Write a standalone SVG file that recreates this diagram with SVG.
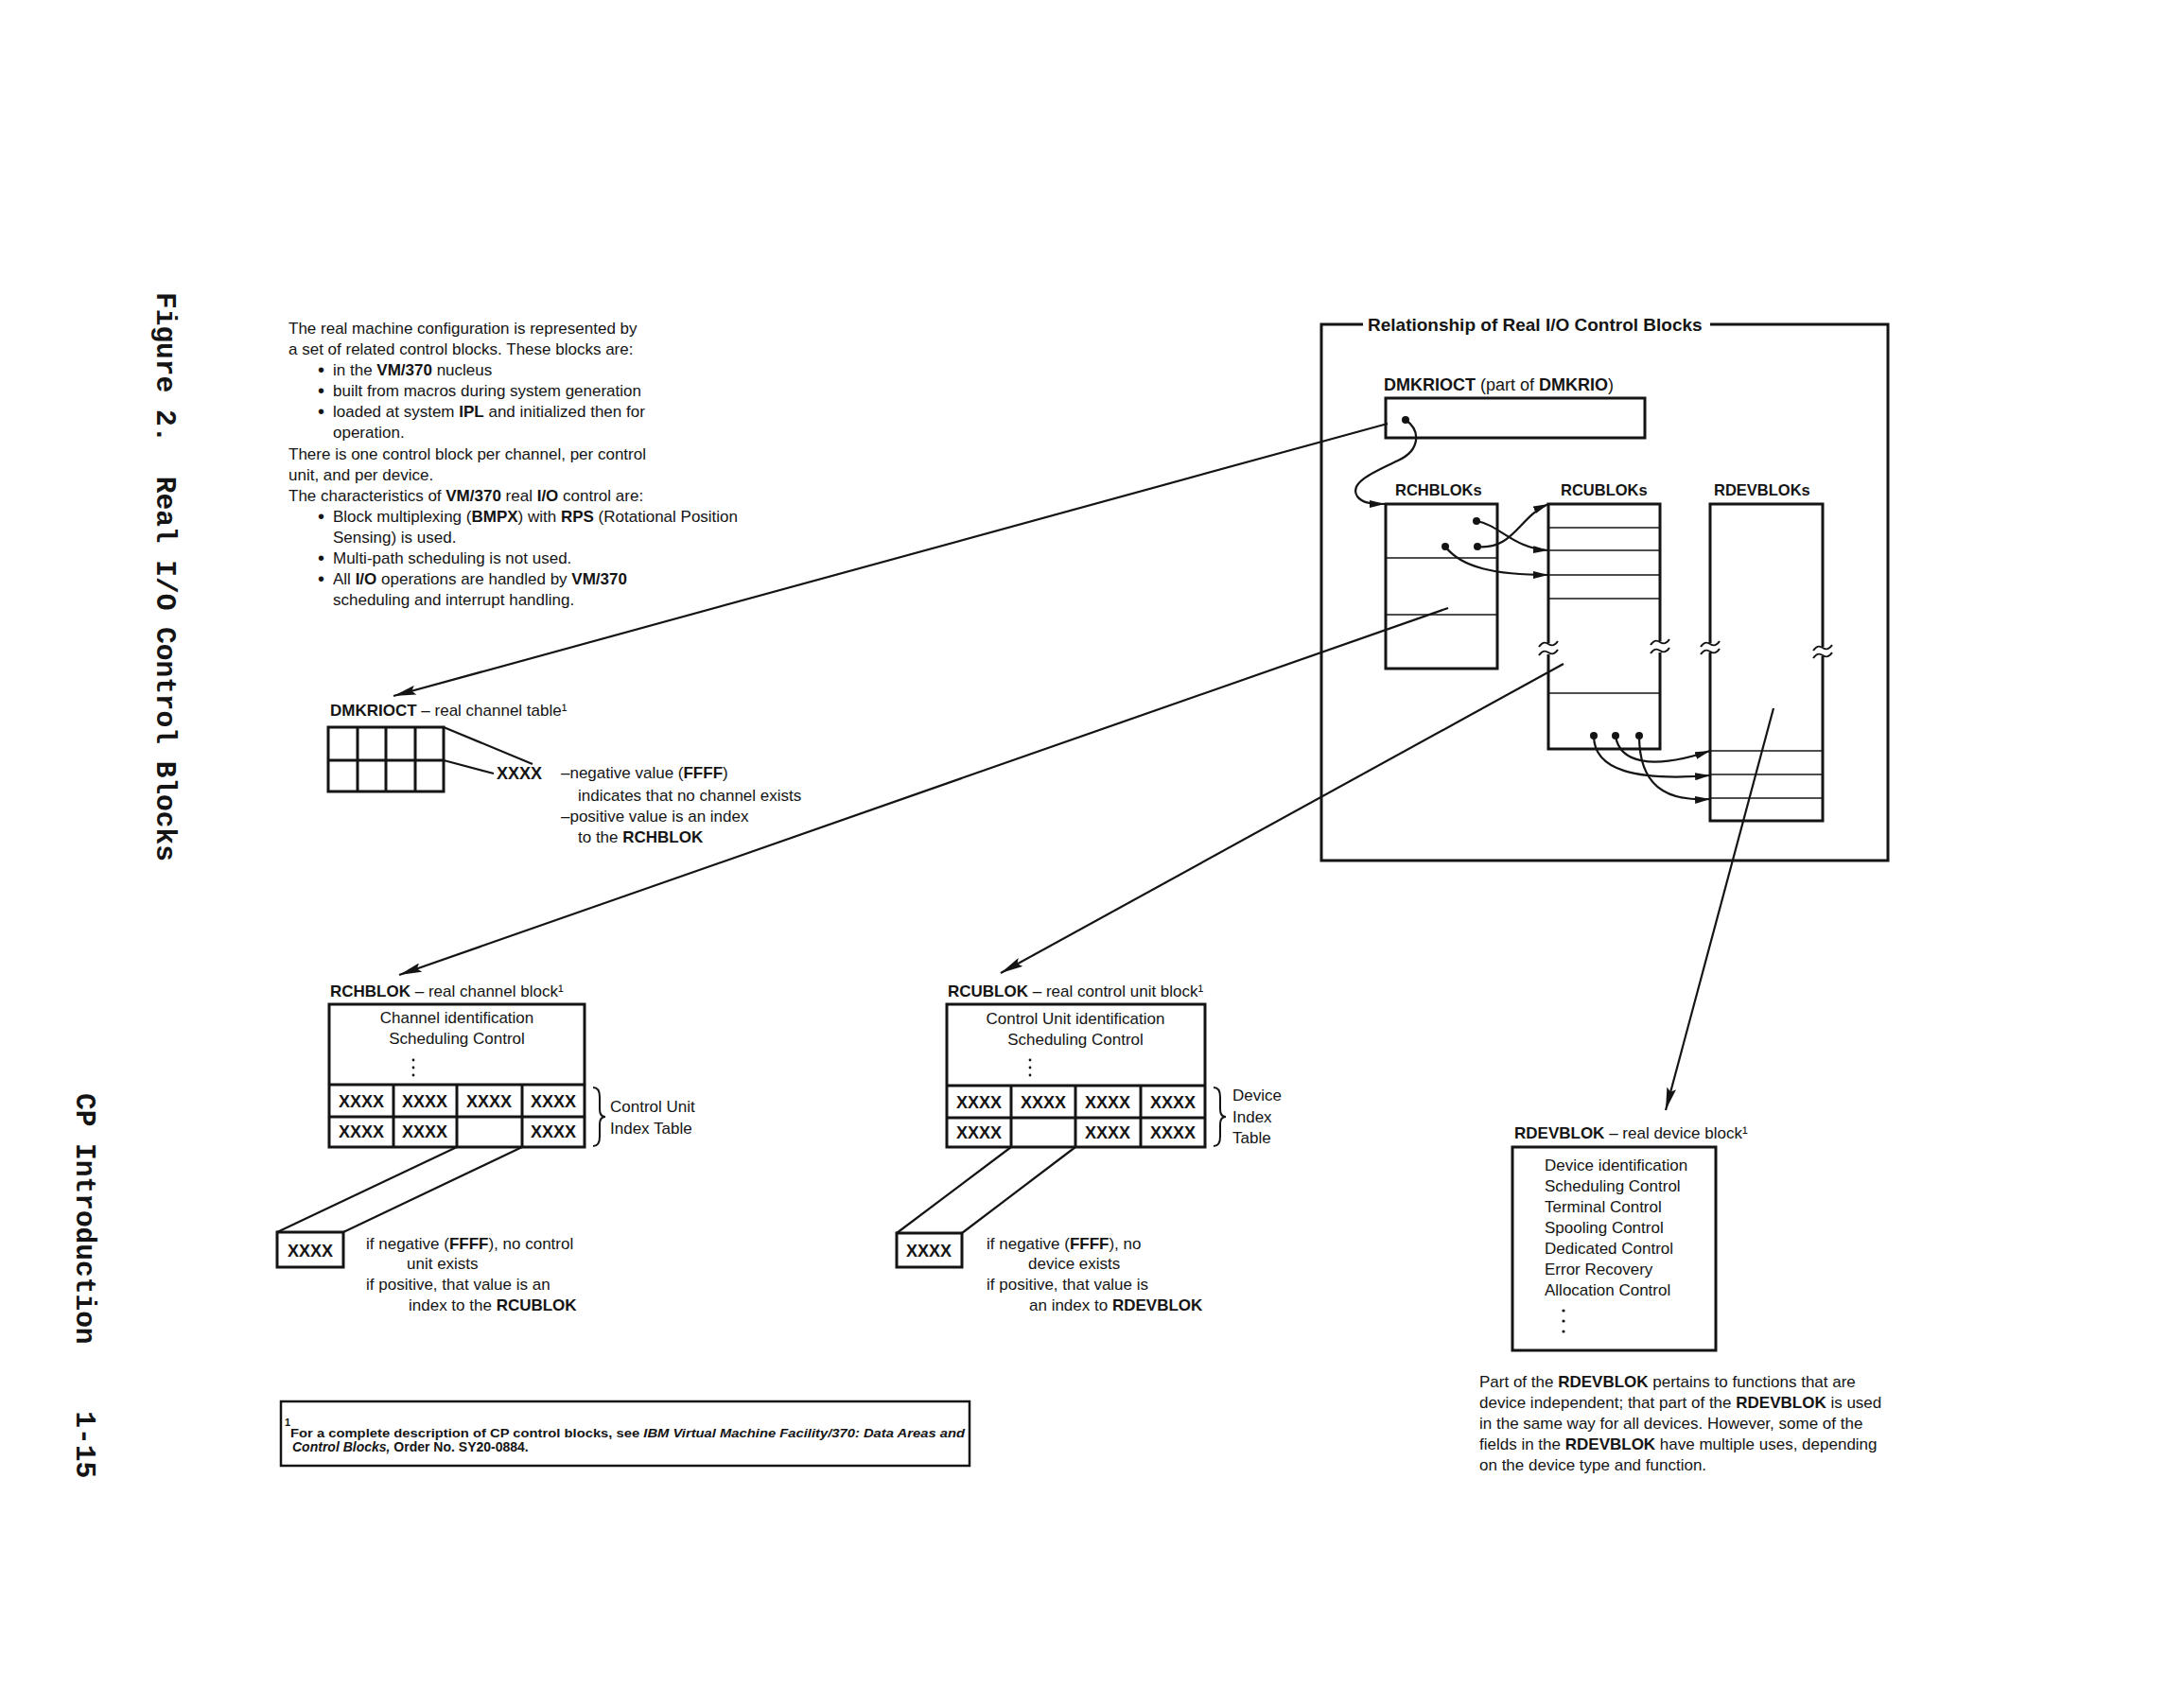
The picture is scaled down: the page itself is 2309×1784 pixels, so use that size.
<svg xmlns="http://www.w3.org/2000/svg" width="2309" height="1784" viewBox="0 0 2309 1784">
<style>
.t{font-family:"Liberation Sans",Arial,Helvetica,sans-serif;font-size:17px;fill:#141414}
.b{font-weight:bold}
.i{font-style:italic}
.x{font-family:"Liberation Sans",Arial,sans-serif;font-size:18px;font-weight:bold;fill:#141414;text-anchor:middle}
.c{text-anchor:middle}
.mono{font-family:"Liberation Mono","Courier New",monospace;font-weight:bold;font-size:29.5px;fill:#141414}
.box{fill:none;stroke:#141414;stroke-width:3}
.ln{fill:none;stroke:#141414;stroke-width:1.7}
.conn{fill:none;stroke:#141414;stroke-width:2.2}
.brace{fill:none;stroke:#141414;stroke-width:2}
.dot{fill:#141414}
</style>
<defs>
<marker id="arrL" viewBox="0 0 24 10" refX="24" refY="5" markerWidth="24" markerHeight="10" markerUnits="userSpaceOnUse" orient="auto">
<path d="M0,0 L24,5 L0,10 L4,5 z" fill="#141414"/>
</marker>
<marker id="arrS" viewBox="0 0 16 8" refX="16" refY="4" markerWidth="16" markerHeight="8" markerUnits="userSpaceOnUse" orient="auto">
<path d="M0,0 L16,4 L0,8 z" fill="#141414"/>
</marker>
<path id="tilde" d="M-10,3 C-6,-3 -3,-2 0,0 C3,2 6,3 10,-3" fill="none" stroke="#141414" stroke-width="2"/>
</defs>
<rect width="2309" height="1784" fill="#ffffff"/>

<g id="running-heads">
<text class="mono" transform="translate(166,309) rotate(90)" xml:space="preserve">Figure 2.  Real I/O Control Blocks</text>
<text class="mono" transform="translate(81,1156) rotate(90)" xml:space="preserve">CP Introduction    1-15</text>
</g>

<g id="intro-text" class="t">
<text x="305" y="353">The real machine configuration is represented by</text>
<text x="305" y="375">a set of related control blocks. These blocks are:</text>
<text x="336" y="398" style="font-size:20px">•</text><text x="352" y="397">in the <tspan class="b">VM/370</tspan> nucleus</text>
<text x="336" y="420" style="font-size:20px">•</text><text x="352" y="419">built from macros during system generation</text>
<text x="336" y="442" style="font-size:20px">•</text><text x="352" y="441">loaded at system <tspan class="b">IPL</tspan> and initialized then for</text>
<text x="352" y="463">operation.</text>
<text x="305" y="486">There is one control block per channel, per control</text>
<text x="305" y="508">unit, and per device.</text>
<text x="305" y="530">The characteristics of <tspan class="b">VM/370</tspan> real <tspan class="b">I/O</tspan> control are:</text>
<text x="336" y="553" style="font-size:20px">•</text><text x="352" y="552">Block multiplexing (<tspan class="b">BMPX</tspan>) with <tspan class="b">RPS</tspan> (Rotational Position</text>
<text x="352" y="574">Sensing) is used.</text>
<text x="336" y="597" style="font-size:20px">•</text><text x="352" y="596">Multi-path scheduling is not used.</text>
<text x="336" y="619" style="font-size:20px">•</text><text x="352" y="618">All <tspan class="b">I/O</tspan> operations are handled by <tspan class="b">VM/370</tspan></text>
<text x="352" y="640">scheduling and interrupt handling.</text>
</g>

<g id="relationship-frame">
<path class="box" d="M1441,343 H1397 V910 H1996 V343 H1808"/>
<text class="t b" x="1446" y="350" style="font-size:19px">Relationship of Real I/O Control Blocks</text>
</g>

<g id="mini-dmkrioct">
<text class="t" x="1463" y="413" style="font-size:18px"><tspan class="b">DMKRIOCT</tspan> (part of <tspan class="b">DMKRIO</tspan>)</text>
<rect class="box" x="1465" y="421" width="274" height="42"/>
<circle class="dot" cx="1486" cy="444" r="4"/>
</g>

<g id="mini-rchbloks">
<text class="t b" x="1475" y="524" style="font-size:16.5px">RCHBLOKs</text>
<rect class="box" x="1465" y="533" width="118" height="174"/>
<line class="ln" x1="1465" y1="590" x2="1583" y2="590"/>
<line class="ln" x1="1465" y1="650" x2="1583" y2="650"/>
<circle class="dot" cx="1561" cy="551" r="4"/>
<circle class="dot" cx="1562" cy="578" r="4"/>
<circle class="dot" cx="1528" cy="578" r="4"/>
</g>

<g id="mini-rcubloks">
<text class="t b" x="1650" y="524" style="font-size:16.5px">RCUBLOKs</text>
<path class="box" d="M1637,680 V533 H1755 V678"/>
<path class="box" d="M1637,692 V792 H1755 V690"/>
<line class="ln" x1="1637" y1="558" x2="1755" y2="558"/>
<line class="ln" x1="1637" y1="582" x2="1755" y2="582"/>
<line class="ln" x1="1637" y1="608" x2="1755" y2="608"/>
<line class="ln" x1="1637" y1="633" x2="1755" y2="633"/>
<line class="ln" x1="1637" y1="733" x2="1755" y2="733"/>
<use href="#tilde" x="1637" y="681"/>
<use href="#tilde" x="1637" y="690"/>
<use href="#tilde" x="1755" y="679"/>
<use href="#tilde" x="1755" y="688"/>
<circle class="dot" cx="1685" cy="778" r="4"/>
<circle class="dot" cx="1708" cy="778" r="4"/>
<circle class="dot" cx="1733" cy="778" r="4"/>
</g>

<g id="mini-rdevbloks">
<text class="t b" x="1812" y="524" style="font-size:16.5px">RDEVBLOKs</text>
<path class="box" d="M1808,680 V533 H1927 V684"/>
<path class="box" d="M1808,690 V868 H1927 V694"/>
<line class="ln" x1="1808" y1="794" x2="1927" y2="794"/>
<line class="ln" x1="1808" y1="819" x2="1927" y2="819"/>
<line class="ln" x1="1808" y1="844" x2="1927" y2="844"/>
<use href="#tilde" x="1808" y="681"/>
<use href="#tilde" x="1808" y="689"/>
<use href="#tilde" x="1927" y="685"/>
<use href="#tilde" x="1927" y="693"/>
</g>

<g id="dmkrioct-table">
<text class="t" x="349" y="757"><tspan class="b">DMKRIOCT</tspan> – real channel table¹</text>
<rect class="box" x="347" y="769" width="122" height="68"/>
<line class="box" x1="347" y1="804" x2="469" y2="804"/>
<line class="box" x1="378" y1="769" x2="378" y2="837"/>
<line class="box" x1="408" y1="769" x2="408" y2="837"/>
<line class="box" x1="439" y1="769" x2="439" y2="837"/>
<path class="conn" d="M469,769 L563,808 M469,804 L522,818"/>
<text class="t b" x="525" y="824" style="font-size:18px">XXXX</text>
<text class="t" x="593" y="823">–negative value (<tspan class="b">FFFF</tspan>)</text>
<text class="t" x="611" y="847">indicates that no channel exists</text>
<text class="t" x="593" y="869">–positive value is an index</text>
<text class="t" x="611" y="891">to the <tspan class="b">RCHBLOK</tspan></text>
</g>

<g id="rchblok">
<text class="t" x="349" y="1054"><tspan class="b">RCHBLOK</tspan> – real channel block¹</text>
<rect class="box" x="348" y="1062" width="270" height="151"/>
<text class="t c" x="483" y="1082">Channel identification</text>
<text class="t c" x="483" y="1104">Scheduling Control</text>
<circle class="dot" cx="437" cy="1121" r="1.4"/><circle class="dot" cx="437" cy="1129" r="1.4"/><circle class="dot" cx="437" cy="1137" r="1.4"/>
<line class="box" x1="348" y1="1147" x2="618" y2="1147"/>
<line class="box" x1="348" y1="1181" x2="618" y2="1181"/>
<line class="box" x1="416" y1="1147" x2="416" y2="1213"/>
<line class="box" x1="483" y1="1147" x2="483" y2="1213"/>
<line class="box" x1="552" y1="1147" x2="552" y2="1213"/>
<text class="x" x="382" y="1171">XXXX</text><text class="x" x="449" y="1171">XXXX</text><text class="x" x="517" y="1171">XXXX</text><text class="x" x="585" y="1171">XXXX</text>
<text class="x" x="382" y="1203">XXXX</text><text class="x" x="449" y="1203">XXXX</text><text class="x" x="585" y="1203">XXXX</text>
<path class="brace" d="M627,1150 Q634,1150 634,1160 L634,1173 Q634,1181 640,1181 Q634,1181 634,1189 L634,1202 Q634,1212 627,1212"/>
<text class="t" x="645" y="1176">Control Unit</text>
<text class="t" x="645" y="1199">Index Table</text>
<path class="conn" d="M483,1213 L293,1303 M552,1213 L363,1303"/>
<rect class="box" x="293" y="1303" width="70" height="37"/>
<text class="x" x="328" y="1329">XXXX</text>
<text class="t" x="387" y="1321">if negative (<tspan class="b">FFFF</tspan>), no control</text>
<text class="t" x="430" y="1342">unit exists</text>
<text class="t" x="387" y="1364">if positive, that value is an</text>
<text class="t" x="432" y="1386">index to the <tspan class="b">RCUBLOK</tspan></text>
</g>

<g id="rcublok">
<text class="t" x="1002" y="1054"><tspan class="b">RCUBLOK</tspan> – real control unit block¹</text>
<rect class="box" x="1001" y="1062" width="273" height="151"/>
<text class="t c" x="1137" y="1083">Control Unit identification</text>
<text class="t c" x="1137" y="1105">Scheduling Control</text>
<circle class="dot" cx="1089" cy="1121" r="1.4"/><circle class="dot" cx="1089" cy="1129" r="1.4"/><circle class="dot" cx="1089" cy="1137" r="1.4"/>
<line class="box" x1="1001" y1="1148" x2="1274" y2="1148"/>
<line class="box" x1="1001" y1="1182" x2="1274" y2="1182"/>
<line class="box" x1="1069" y1="1148" x2="1069" y2="1213"/>
<line class="box" x1="1137" y1="1148" x2="1137" y2="1213"/>
<line class="box" x1="1206" y1="1148" x2="1206" y2="1213"/>
<text class="x" x="1035" y="1172">XXXX</text><text class="x" x="1103" y="1172">XXXX</text><text class="x" x="1171" y="1172">XXXX</text><text class="x" x="1240" y="1172">XXXX</text>
<text class="x" x="1035" y="1204">XXXX</text><text class="x" x="1171" y="1204">XXXX</text><text class="x" x="1240" y="1204">XXXX</text>
<path class="brace" d="M1283,1150 Q1290,1150 1290,1160 L1290,1173 Q1290,1181 1296,1181 Q1290,1181 1290,1189 L1290,1202 Q1290,1212 1283,1212"/>
<text class="t" x="1303" y="1164">Device</text>
<text class="t" x="1303" y="1187">Index</text>
<text class="t" x="1303" y="1209">Table</text>
<path class="conn" d="M1069,1213 L948,1304 M1137,1213 L1017,1304"/>
<rect class="box" x="948" y="1304" width="69" height="36"/>
<text class="x" x="982" y="1329">XXXX</text>
<text class="t" x="1043" y="1321">if negative (<tspan class="b">FFFF</tspan>), no</text>
<text class="t" x="1087" y="1342">device exists</text>
<text class="t" x="1043" y="1364">if positive, that value is</text>
<text class="t" x="1088" y="1386">an index to <tspan class="b">RDEVBLOK</tspan></text>
</g>

<g id="rdevblok">
<text class="t" x="1601" y="1204"><tspan class="b">RDEVBLOK</tspan> – real device block¹</text>
<rect class="box" x="1599" y="1213" width="215" height="215"/>
<text class="t" x="1633" y="1238">Device identification</text>
<text class="t" x="1633" y="1260">Scheduling Control</text>
<text class="t" x="1633" y="1282">Terminal Control</text>
<text class="t" x="1633" y="1304">Spooling Control</text>
<text class="t" x="1633" y="1326">Dedicated Control</text>
<text class="t" x="1633" y="1348">Error Recovery</text>
<text class="t" x="1633" y="1370">Allocation Control</text>
<circle class="dot" cx="1653" cy="1386" r="1.6"/><circle class="dot" cx="1653" cy="1397" r="1.6"/><circle class="dot" cx="1653" cy="1408" r="1.6"/>
<text class="t" x="1564" y="1467">Part of the <tspan class="b">RDEVBLOK</tspan> pertains to functions that are</text>
<text class="t" x="1564" y="1489">device independent; that part of the <tspan class="b">RDEVBLOK</tspan> is used</text>
<text class="t" x="1564" y="1511">in the same way for all devices. However, some of the</text>
<text class="t" x="1564" y="1533">fields in the <tspan class="b">RDEVBLOK</tspan> have multiple uses, depending</text>
<text class="t" x="1564" y="1555">on the device type and function.</text>
</g>

<g id="footnote">
<rect fill="none" stroke="#141414" stroke-width="2.5" x="297" y="1482" width="728" height="68"/>
<text class="t b" x="301" y="1508" style="font-size:11px">1</text>
<text class="t b" x="307" y="1520" style="font-size:13.5px" textLength="713" lengthAdjust="spacingAndGlyphs">For a complete description of CP control blocks, see <tspan class="i">IBM Virtual  Machine Facility/370:  Data Areas and</tspan></text>
<text class="t b" x="309" y="1535" style="font-size:14px"><tspan class="i">Control Blocks,</tspan> Order No. SY20-0884.</text>
</g>

<g id="connectors">
<path class="conn" d="M1486,444 C1502,455 1502,476 1478,487 C1455,498 1425,510 1435,525 C1440,532 1450,533 1464,533" marker-end="url(#arrS)"/>
<path class="conn" d="M1561,551 C1585,555 1600,580 1637,582" marker-end="url(#arrS)"/>
<path class="conn" d="M1562,578 C1600,582 1606,546 1637,533" marker-end="url(#arrS)"/>
<path class="conn" d="M1528,578 C1545,600 1580,608 1637,608" marker-end="url(#arrS)"/>
<path class="conn" d="M1685,778 C1685,815 1730,826 1808,820" marker-end="url(#arrS)"/>
<path class="conn" d="M1708,778 C1712,806 1745,815 1808,794" marker-end="url(#arrS)"/>
<path class="conn" d="M1733,778 C1733,830 1760,848 1808,845" marker-end="url(#arrS)"/>
<path class="conn" d="M1467,448 L416,736" marker-end="url(#arrL)"/>
<path class="conn" d="M1531,643 L422,1031" marker-end="url(#arrL)"/>
<path class="conn" d="M1653,702 L1058,1029" marker-end="url(#arrL)"/>
<path class="conn" d="M1875,749 L1761,1174" marker-end="url(#arrL)"/>
</g>
</svg>
